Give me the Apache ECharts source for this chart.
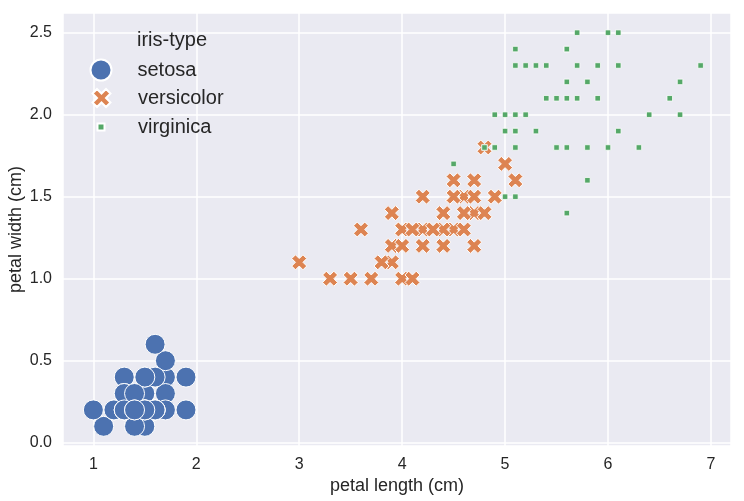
<!DOCTYPE html>
<html>
<head>
<meta charset="utf-8">
<script src="https://cdn.jsdelivr.net/npm/echarts@6/dist/echarts.min.js"></script>
<style>
html,body{margin:0;padding:0;background:#fff;}
#chart{width:744px;height:501px;}
</style>
</head>
<body>
<div id="chart"></div>
<script>
// ---- data (iris petal length / width) ----
const setosaLength = [1.4,1.4,1.3,1.5,1.4,1.7,1.4,1.5,1.4,1.5,1.5,1.6,1.4,1.1,1.2,1.5,1.3,1.4,1.7,1.5,1.7,1.5,1.0,1.7,1.9,1.6,1.6,1.5,1.4,1.6,1.6,1.5,1.5,1.4,1.5,1.2,1.3,1.4,1.3,1.5,1.3,1.3,1.3,1.6,1.9,1.4,1.6,1.4,1.5,1.4];
const setosaWidth  = [0.2,0.2,0.2,0.2,0.2,0.4,0.3,0.2,0.2,0.1,0.2,0.2,0.1,0.1,0.2,0.4,0.4,0.3,0.3,0.3,0.2,0.4,0.2,0.5,0.2,0.2,0.4,0.2,0.2,0.2,0.2,0.4,0.1,0.2,0.2,0.2,0.2,0.1,0.2,0.2,0.3,0.3,0.2,0.6,0.4,0.3,0.2,0.2,0.2,0.2];
const versicolorLength = [4.7,4.5,4.9,4.0,4.6,4.5,4.7,3.3,4.6,3.9,3.5,4.2,4.0,4.7,3.6,4.4,4.5,4.1,4.5,3.9,4.8,4.0,4.9,4.7,4.3,4.4,4.8,5.0,4.5,3.5,3.8,3.7,3.9,5.1,4.5,4.5,4.7,4.4,4.1,4.0,4.4,4.6,4.0,3.3,4.2,4.2,4.2,4.3,3.0,4.1];
const versicolorWidth  = [1.4,1.5,1.5,1.3,1.5,1.3,1.6,1.0,1.3,1.4,1.0,1.5,1.0,1.4,1.3,1.4,1.5,1.0,1.5,1.1,1.8,1.3,1.5,1.2,1.3,1.4,1.4,1.7,1.5,1.0,1.1,1.0,1.2,1.6,1.5,1.6,1.5,1.3,1.3,1.3,1.2,1.4,1.2,1.0,1.3,1.2,1.3,1.3,1.1,1.3];
const virginicaLength = [6.0,5.1,5.9,5.6,5.8,6.6,4.5,6.3,5.8,6.1,5.1,5.3,5.5,5.0,5.1,5.3,5.5,6.7,6.9,5.0,5.7,4.9,6.7,4.9,5.7,6.0,4.8,4.9,5.6,5.8,6.1,6.4,5.6,5.1,5.6,6.1,5.6,5.5,4.8,5.4,5.6,5.1,5.1,5.9,5.7,5.2,5.0,5.2,5.4,5.1];
const virginicaWidth  = [2.5,1.9,2.1,1.8,2.2,2.1,1.7,1.8,1.8,2.5,2.0,1.9,2.1,2.0,2.4,2.3,1.8,2.2,2.3,1.5,2.3,2.0,2.0,1.8,2.1,1.8,1.8,1.8,2.1,1.6,1.9,2.0,2.2,1.5,1.4,2.3,2.4,1.8,1.8,2.1,2.4,2.3,1.9,2.3,2.5,2.3,1.9,2.0,2.3,1.8];
const speciesNames = ['setosa','versicolor','virginica'];
const xTicks = [1,2,3,4,5,6,7];
const yTicks = [0.0,0.5,1.0,1.5,2.0,2.5];

const zip = (a,b) => a.map((v,i) => [v,b[i]]);
const FONT = "'Liberation Sans', Arial, sans-serif";
const TXT = '#262626';
const colors = ['#4C72B0','#DD8452','#55A868'];
const xPath = 'path://M-1,-2L0,-1L1,-2L2,-1L1,0L2,1L1,2L0,1L-1,2L-2,1L-1,0L-2,-1Z';

const near = (v, arr) => arr.some(t => Math.abs(t - v) < 1e-6);

const chart = echarts.init(document.getElementById('chart'), null, {renderer:'canvas'});
chart.setOption({
  animation: false,
  backgroundColor: '#ffffff',
  textStyle: {fontFamily: FONT, color: TXT},
  title: {
    text: 'iris-type', left: 137, top: 30, padding: 0,
    textStyle: {fontFamily: FONT, fontSize: 20, fontWeight: 'normal', color: TXT}
  },
  grid: {left: 63, right: 13, top: 13, bottom: 55, show: true, backgroundColor: '#EAEAF2', borderWidth: 0,
         containLabel: false, outerBoundsMode: 'none'},
  legend: [
    {data: [{name: speciesNames[0], icon: 'circle'}], left: 89.5, top: 58.5, padding: 0,
     itemWidth: 21, itemHeight: 21, selectedMode: false,
     textStyle: {fontFamily: FONT, fontSize: 20, color: TXT, padding: [0,0,0,21]}},
    {data: [{name: speciesNames[1], icon: xPath}], left: 91.5, top: 88, padding: 0,
     itemWidth: 18, itemHeight: 18, selectedMode: false,
     textStyle: {fontFamily: FONT, fontSize: 20, color: TXT, padding: [0,0,0,22.5]}},
    {data: [{name: speciesNames[2], icon: 'rect'}], left: 96.5, top: 117, padding: 0,
     itemWidth: 7, itemHeight: 7, selectedMode: false,
     textStyle: {fontFamily: FONT, fontSize: 20, color: TXT, padding: [0,0,0,28.5]}}
  ],
  xAxis: {
    type: 'value', min: 0.705, max: 7.195,
    name: 'petal length (cm)', nameLocation: 'middle', nameGap: 31, nameMoveOverlap: false,
    nameTextStyle: {fontFamily: FONT, fontSize: 18, color: TXT},
    axisLine: {show: false}, axisTick: {show: false},
    axisLabel: {fontFamily: FONT, fontSize: 16, color: TXT, margin: 11,
      formatter: v => near(v, xTicks) ? String(Math.round(v)) : ''},
    splitLine: {show: true, lineStyle: {color: '#ffffff', width: 1.5}}
  },
  yAxis: {
    type: 'value', min: -0.02, max: 2.62, splitNumber: 5,
    name: 'petal width (cm)', nameLocation: 'middle', nameGap: 38, nameMoveOverlap: false,
    nameTextStyle: {fontFamily: FONT, fontSize: 18, color: TXT},
    axisLine: {show: false}, axisTick: {show: false},
    axisLabel: {fontFamily: FONT, fontSize: 16, color: TXT, margin: 11,
      formatter: v => near(v, yTicks) ? v.toFixed(1) : ''},
    splitLine: {show: true, lineStyle: {color: '#ffffff', width: 1.5}}
  },
  series: [
    {name: speciesNames[0], type: 'scatter', data: zip(setosaLength, setosaWidth),
     symbol: 'circle', symbolSize: 20,
     itemStyle: {color: colors[0], opacity: 1, borderColor: '#ffffff', borderWidth: 1},
     emphasis: {disabled: true}},
    {name: speciesNames[1], type: 'scatter', data: zip(versicolorLength, versicolorWidth),
     symbol: xPath, symbolSize: 15,
     itemStyle: {color: colors[1], opacity: 1, borderColor: '#ffffff', borderWidth: 1},
     emphasis: {disabled: true}},
    {name: speciesNames[2], type: 'scatter', data: zip(virginicaLength, virginicaWidth),
     symbol: 'rect', symbolSize: 5.5,
     itemStyle: {color: colors[2], opacity: 1, borderColor: '#ffffff', borderWidth: 0.75},
     emphasis: {disabled: true}}
  ]
});
</script>
</body>
</html>
